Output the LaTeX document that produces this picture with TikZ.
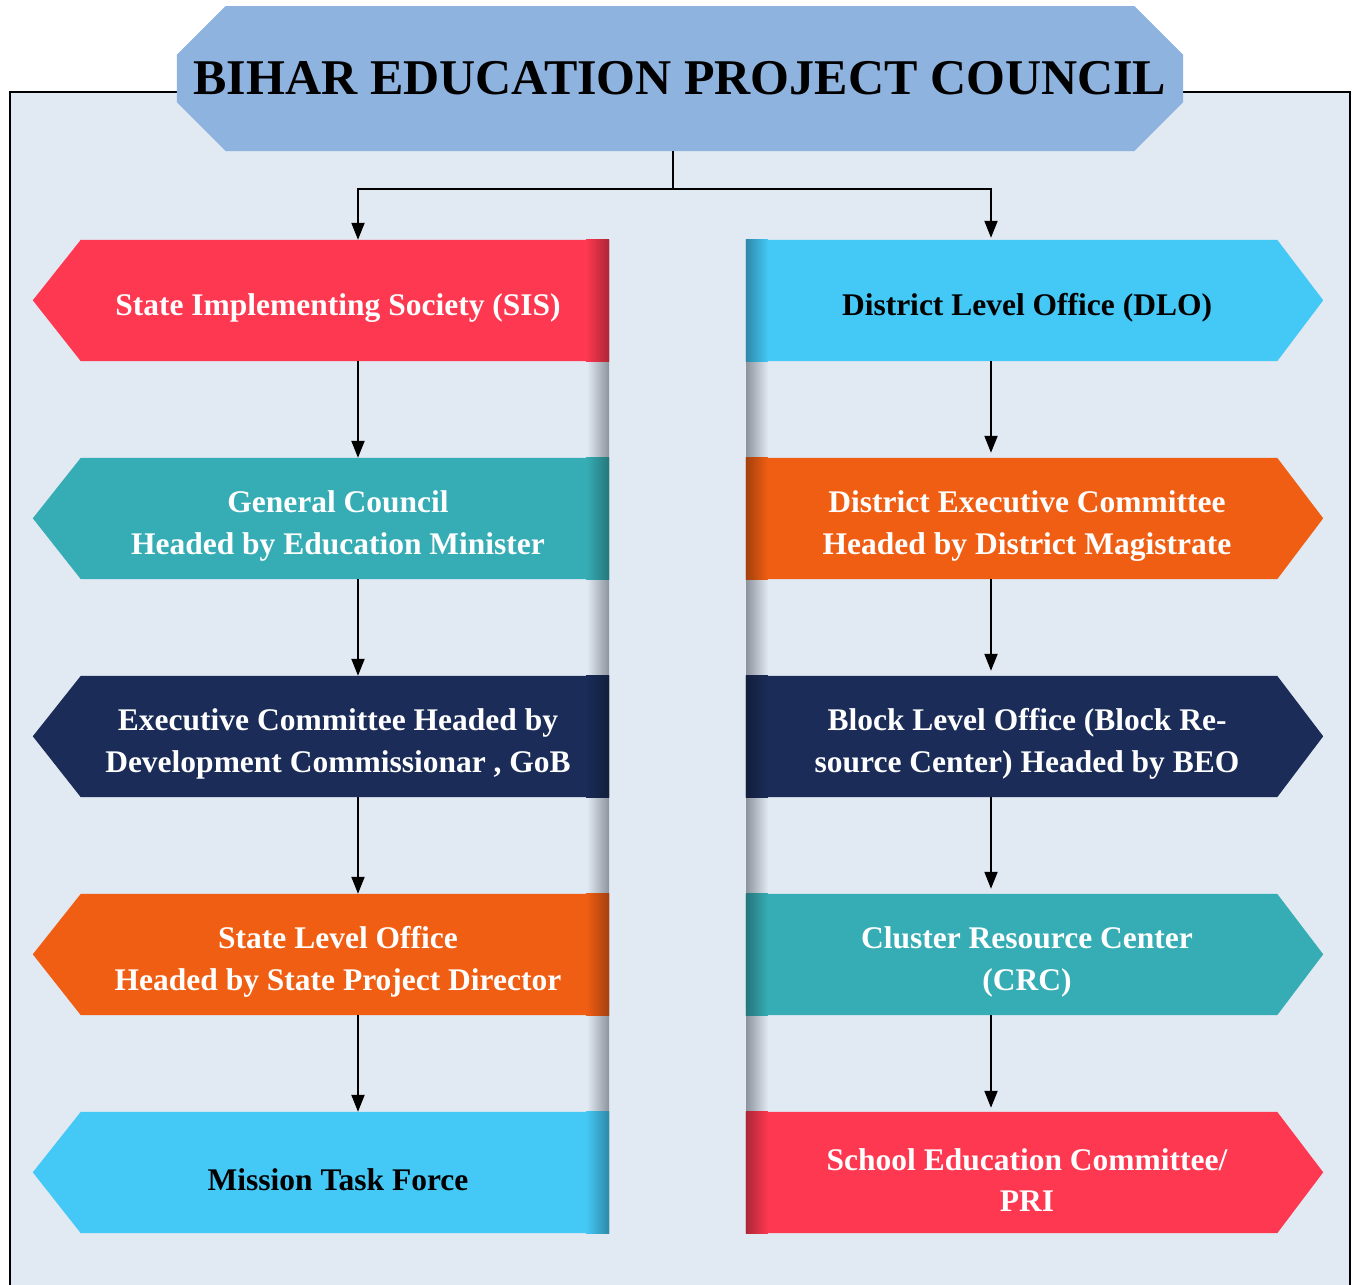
\documentclass[tikz,border=0pt]{standalone}
\usepackage{fontspec}
\setmainfont{Liberation Serif}
\usetikzlibrary{arrows.meta,calc,shapes.misc}
\definecolor{bgc}{HTML}{E1E9F3}
\definecolor{titlec}{HTML}{8EB3DF}
\definecolor{redc}{HTML}{FD3850}
\definecolor{tealc}{HTML}{36ADB4}
\definecolor{navyc}{HTML}{1A2C57}
\definecolor{orangec}{HTML}{F05E13}
\definecolor{cyanc}{HTML}{44C8F5}
\definecolor{shgray}{HTML}{8C939C}
\tikzset{
  anchorbox/.style={rectangle,inner sep=0pt,minimum height=121pt,draw=none},
  boxtext/.style={align=center,inner sep=0pt,font=\fontsize{31.5}{41.5}\selectfont\bfseries},
  conn/.style={line width=2pt,draw=black},
  arr/.style={conn,-{Triangle[length=17pt,width=13pt]}},
}
\newcommand\LBox[5]{%
  \node[anchorbox,minimum width=528pt] (#1) at (345,#2) {};
  \fill[#3] (#1.north east) -- (#1.north west) -- ++(-48,60.5) -- (#1.south west) -- (#1.south east) -- cycle;
  \shade[left color=#3,right color=#3!68!black] ($(#1.north east)+(-23,0)$) rectangle (#1.south east);
  \node[boxtext,text=#4] (#1-t) at (338,#2+7.5) {#5};
}
\newcommand\RBox[5]{%
  \node[anchorbox,minimum width=531pt] (#1) at (1011.5,#2) {};
  \fill[#3] (#1.north west) -- (#1.north east) -- ++(46,60.5) -- (#1.south east) -- (#1.south west) -- cycle;
  \shade[left color=#3!68!black,right color=#3] (#1.north west) rectangle ($(#1.south west)+(22,0)$);
  \node[boxtext,text=#4] (#1-t) at (1027,#2+7.5) {#5};
}
\begin{document}
\begin{tikzpicture}[x=1pt,y=-1pt]
\useasboundingbox (0,0) rectangle (1353,1285);
\clip (0,0) rectangle (1353,1285);
\fill[white] (0,0) rectangle (1353,1285);
\fill[bgc] (10,92) rectangle (1350,1300);
\draw[line width=2.5pt] (10,92) rectangle (1350,1300);
% shadow columns
\shade[left color=bgc,right color=shgray] (587,240) rectangle (609,1233);
\shade[left color=shgray,right color=bgc] (746,240) rectangle (768,1233);
% title
\node[chamfered rectangle,chamfered rectangle xsep=33pt,chamfered rectangle ysep=32pt,
  minimum width=1006pt,minimum height=145pt,inner sep=0pt,fill=titlec,
  font=\fontsize{50}{55}\selectfont\bfseries] (bepc) at (680,78.5) {BIHAR EDUCATION PROJECT COUNCIL};
% left column
\LBox{sis}{300.5}{redc}{white}{State Implementing Society (SIS)}
\LBox{gc}{518.5}{tealc}{white}{General Council\\Headed by Education Minister}
\LBox{ec}{736.5}{navyc}{white}{Executive Committee Headed by\\Development Commissionar , GoB}
\LBox{slo}{954.5}{orangec}{white}{State Level Office\\Headed by State Project Director}
\LBox{mtf}{1172.5}{cyanc}{black}{Mission Task Force}
% right column
\RBox{dlo}{300.5}{cyanc}{black}{District Level Office (DLO)}
\RBox{dec}{518.5}{orangec}{white}{District Executive Committee\\Headed by District Magistrate}
\RBox{blo}{736.5}{navyc}{white}{Block Level Office (Block Re-\\source Center) Headed by BEO}
\RBox{crc}{954.5}{tealc}{white}{Cluster Resource Center\\(CRC)}
\RBox{sec}{1172.5}{redc}{white}{School Education Committee/\\PRI}
% connectors
\coordinate (lx) at (358,0);
\coordinate (rx) at (991,0);
\coordinate (stem) at (673,189);
\draw[conn] (bepc.south -| stem) -- (stem);
\draw[arr] (stem) -| (sis.north -| lx);
\draw[arr,shorten >=2pt] (stem) -| (dlo.north -| rx);
\draw[arr] (sis.south -| lx) -- (gc.north -| lx);
\draw[arr] (gc.south -| lx) -- (ec.north -| lx);
\draw[arr] (ec.south -| lx) -- (slo.north -| lx);
\draw[arr] (slo.south -| lx) -- (mtf.north -| lx);
\draw[arr,shorten >=5pt] (dlo.south -| rx) -- (dec.north -| rx);
\draw[arr,shorten >=5pt] (dec.south -| rx) -- (blo.north -| rx);
\draw[arr,shorten >=5pt] (blo.south -| rx) -- (crc.north -| rx);
\draw[arr,shorten >=4pt] (crc.south -| rx) -- (sec.north -| rx);
\end{tikzpicture}
\end{document}
